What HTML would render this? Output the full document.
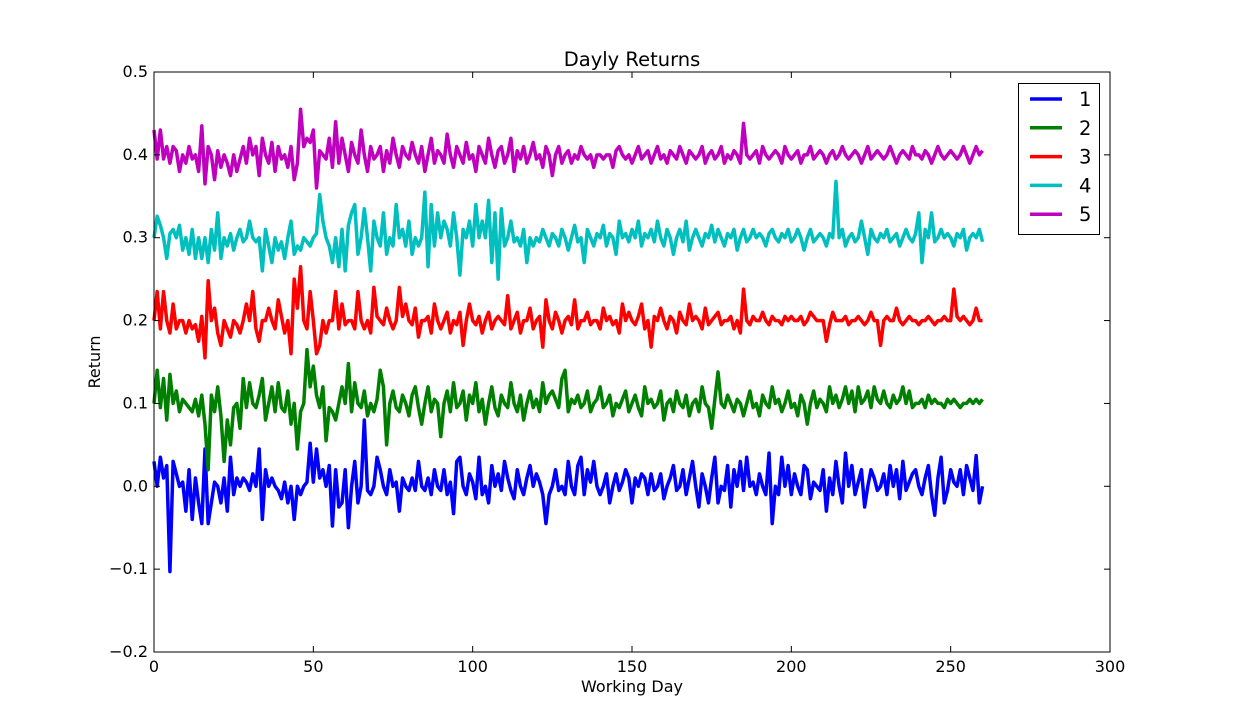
<!DOCTYPE html>
<html><head><meta charset="utf-8"><style>
body{margin:0;background:#fff;}
svg{display:block;font-family:"DejaVu Sans","Liberation Sans",sans-serif;}
</style></head><body>
<svg id="chart" width="1233" height="725" viewBox="0 0 1233 725">
<rect x="0" y="0" width="1233" height="725" fill="#fff"/>
<g id="series"></g>
<g id="axes"></g>
<text x="632" y="66" text-anchor="middle" font-size="19.5">Dayly Returns</text>
<text x="632" y="692" text-anchor="middle" font-size="16">Working Day</text>
<text x="0" y="0" transform="translate(100,362) rotate(-90)" text-anchor="middle" font-size="16">Return</text>
<g id="legend"></g>
</svg>
<script>
const xTicks=[0,50,100,150,200,250,300];
const yTicks=[-0.2,-0.1,0.0,0.1,0.2,0.3,0.4,0.5];
const yTickLabels=["\u22120.2","\u22120.1","0.0","0.1","0.2","0.3","0.4","0.5"];
const seriesNames=["1","2","3","4","5"];
const s1=[0.03,0.0,0.035,0.01,0.025,-0.103,0.03,0.015,0.0,0.005,
-0.03,0.02,-0.04,0.01,-0.02,-0.045,0.045,-0.045,-0.02,0.005,
0.0,-0.02,0.01,-0.03,0.035,-0.01,0.01,0.0,0.01,0.005,
-0.005,0.015,0.0,0.045,-0.04,0.02,0.0,0.01,0.0,-0.005,
-0.015,0.005,-0.02,0.0,-0.04,0.0,-0.01,0.0,0.005,0.052,
0.005,0.045,0.01,0.02,0.0,0.025,-0.048,0.02,-0.025,-0.02,
0.02,-0.05,0.0,0.03,-0.02,0.0,0.08,-0.005,-0.01,0.0,
0.035,0.02,0.0,-0.01,0.02,0.0,0.005,-0.03,0.01,0.0,
-0.005,0.01,-0.005,0.03,0.0,-0.005,0.01,-0.01,0.02,0.0,
-0.005,0.02,-0.01,0.005,-0.033,0.03,0.035,0.0,-0.01,0.015,
0.005,-0.015,0.035,-0.01,0.0,-0.02,0.025,0.0,0.015,-0.005,
0.03,0.01,-0.005,-0.015,0.02,0.0,-0.01,0.01,0.025,0.0,
0.015,0.005,-0.01,-0.045,-0.01,0.0,0.02,-0.005,0.0,-0.01,
0.03,0.0,-0.01,0.025,0.035,-0.01,0.02,0.005,0.03,0.0,
-0.01,0.0,0.015,-0.02,0.0,0.015,-0.005,0.005,0.02,0.01,
-0.02,0.01,0.0,0.015,0.01,-0.01,0.015,-0.005,0.0,0.015,
-0.015,0.0,0.01,0.025,-0.005,0.0,0.02,-0.01,0.01,0.03,
0.0,-0.025,0.015,0.0,-0.02,0.01,0.035,-0.02,0.0,-0.005,
0.025,-0.025,0.02,0.0,0.03,-0.005,0.035,0.0,0.005,-0.01,
0.015,0.0,-0.01,0.04,-0.045,0.0,-0.01,0.035,0.0,0.025,
-0.01,0.015,0.0,-0.01,0.025,0.02,-0.015,0.005,0.0,-0.005,
0.02,-0.03,0.01,-0.01,0.03,0.0,-0.02,0.04,0.0,0.025,
-0.01,0.005,0.02,-0.025,0.0,0.02,0.01,-0.005,0.0,0.015,
-0.01,0.025,0.0,0.02,-0.015,0.03,-0.005,0.005,0.015,0.02,
0.0,-0.01,0.01,0.025,-0.01,-0.035,0.01,0.035,-0.02,-0.005,
0.02,0.005,0.0,0.02,-0.01,0.025,0.01,-0.005,0.037,-0.02,0.0];
const s2=[0.1,0.14,0.095,0.13,0.08,0.135,0.1,0.115,0.09,0.105,
0.1,0.095,0.09,0.105,0.085,0.11,0.075,0.02,0.11,0.09,
0.12,0.085,0.03,0.08,0.05,0.095,0.1,0.07,0.13,0.095,
0.125,0.1,0.095,0.11,0.13,0.08,0.1,0.12,0.09,0.125,
0.095,0.09,0.115,0.075,0.1,0.045,0.09,0.1,0.165,0.12,
0.145,0.11,0.095,0.12,0.055,0.095,0.09,0.08,0.1,0.12,
0.1,0.148,0.09,0.125,0.1,0.095,0.115,0.085,0.1,0.09,
0.105,0.14,0.12,0.05,0.1,0.115,0.095,0.09,0.11,0.1,
0.085,0.11,0.12,0.095,0.075,0.1,0.12,0.09,0.105,0.1,
0.06,0.1,0.115,0.09,0.125,0.095,0.1,0.115,0.08,0.11,
0.1,0.125,0.09,0.105,0.075,0.1,0.12,0.095,0.085,0.11,
0.1,0.095,0.125,0.1,0.09,0.11,0.08,0.1,0.115,0.095,
0.105,0.09,0.125,0.1,0.11,0.115,0.105,0.095,0.13,0.14,
0.09,0.105,0.1,0.11,0.095,0.1,0.115,0.09,0.1,0.105,
0.12,0.095,0.1,0.11,0.085,0.1,0.095,0.105,0.115,0.09,
0.1,0.11,0.095,0.085,0.12,0.1,0.105,0.095,0.1,0.115,
0.08,0.1,0.105,0.09,0.115,0.1,0.095,0.11,0.085,0.1,
0.105,0.09,0.12,0.1,0.095,0.07,0.105,0.138,0.1,0.095,
0.11,0.1,0.09,0.105,0.1,0.085,0.1,0.115,0.095,0.1,
0.085,0.11,0.1,0.095,0.12,0.1,0.105,0.09,0.1,0.115,
0.095,0.1,0.085,0.11,0.1,0.075,0.1,0.115,0.095,0.105,
0.1,0.09,0.12,0.1,0.11,0.095,0.105,0.12,0.1,0.115,
0.09,0.12,0.1,0.105,0.115,0.095,0.12,0.105,0.1,0.115,
0.1,0.095,0.11,0.1,0.105,0.12,0.1,0.115,0.095,0.1,
0.1,0.105,0.095,0.11,0.1,0.105,0.1,0.1,0.095,0.105,
0.1,0.105,0.1,0.095,0.1,0.1,0.105,0.1,0.105,0.1,0.105];
const s3=[0.2,0.235,0.19,0.235,0.2,0.185,0.22,0.19,0.2,0.2,
0.185,0.2,0.19,0.195,0.175,0.205,0.155,0.248,0.2,0.215,
0.185,0.17,0.2,0.19,0.18,0.2,0.195,0.185,0.2,0.22,
0.2,0.235,0.19,0.175,0.2,0.2,0.215,0.2,0.19,0.225,
0.205,0.185,0.2,0.16,0.25,0.215,0.265,0.2,0.19,0.235,
0.2,0.16,0.17,0.2,0.185,0.2,0.2,0.235,0.19,0.22,
0.195,0.2,0.2,0.19,0.235,0.2,0.19,0.2,0.185,0.24,
0.205,0.2,0.195,0.215,0.2,0.19,0.2,0.24,0.205,0.22,
0.2,0.195,0.215,0.18,0.2,0.2,0.205,0.185,0.22,0.2,
0.19,0.2,0.21,0.185,0.2,0.195,0.21,0.17,0.2,0.22,
0.2,0.195,0.205,0.185,0.2,0.21,0.19,0.2,0.205,0.2,
0.195,0.23,0.19,0.2,0.21,0.185,0.2,0.2,0.215,0.19,
0.2,0.205,0.168,0.225,0.2,0.19,0.21,0.2,0.185,0.2,
0.205,0.195,0.225,0.19,0.2,0.2,0.21,0.195,0.2,0.2,
0.19,0.215,0.2,0.205,0.195,0.2,0.185,0.22,0.2,0.21,
0.2,0.195,0.205,0.22,0.19,0.2,0.168,0.205,0.2,0.215,
0.2,0.19,0.205,0.2,0.185,0.21,0.2,0.195,0.22,0.2,
0.205,0.2,0.19,0.215,0.195,0.2,0.205,0.21,0.195,0.2,
0.2,0.205,0.19,0.2,0.185,0.238,0.2,0.195,0.205,0.2,
0.2,0.21,0.2,0.195,0.205,0.2,0.2,0.195,0.205,0.2,
0.205,0.2,0.2,0.205,0.195,0.2,0.21,0.205,0.2,0.2,
0.2,0.175,0.195,0.21,0.2,0.2,0.2,0.205,0.195,0.2,
0.2,0.205,0.2,0.195,0.2,0.21,0.2,0.2,0.17,0.2,
0.205,0.2,0.2,0.215,0.2,0.195,0.2,0.205,0.2,0.2,
0.195,0.2,0.2,0.205,0.2,0.195,0.2,0.2,0.205,0.2,
0.2,0.238,0.205,0.2,0.205,0.2,0.195,0.2,0.215,0.2,0.2];
const s4=[0.3,0.326,0.315,0.3,0.275,0.305,0.31,0.3,0.315,0.285,
0.3,0.28,0.31,0.275,0.3,0.275,0.3,0.27,0.31,0.285,
0.33,0.275,0.3,0.29,0.305,0.285,0.3,0.31,0.295,0.3,
0.32,0.3,0.295,0.3,0.26,0.31,0.29,0.27,0.3,0.285,
0.295,0.275,0.3,0.32,0.28,0.29,0.285,0.3,0.295,0.29,
0.3,0.305,0.352,0.32,0.3,0.29,0.27,0.3,0.265,0.31,
0.26,0.315,0.33,0.34,0.28,0.3,0.335,0.3,0.26,0.32,
0.3,0.29,0.33,0.28,0.3,0.29,0.34,0.3,0.31,0.29,
0.32,0.28,0.3,0.29,0.3,0.355,0.265,0.34,0.29,0.33,
0.3,0.32,0.31,0.29,0.33,0.3,0.255,0.31,0.3,0.32,
0.29,0.34,0.3,0.32,0.3,0.345,0.27,0.33,0.25,0.335,
0.29,0.3,0.32,0.295,0.3,0.29,0.31,0.27,0.3,0.29,
0.3,0.295,0.31,0.3,0.29,0.305,0.3,0.29,0.31,0.3,
0.285,0.3,0.315,0.295,0.3,0.27,0.31,0.3,0.29,0.305,
0.3,0.315,0.29,0.305,0.3,0.28,0.32,0.3,0.305,0.295,
0.31,0.3,0.32,0.29,0.305,0.3,0.31,0.295,0.32,0.3,
0.29,0.31,0.3,0.28,0.3,0.31,0.295,0.32,0.285,0.3,
0.31,0.3,0.29,0.305,0.3,0.315,0.295,0.31,0.3,0.29,
0.305,0.3,0.31,0.285,0.3,0.31,0.295,0.3,0.31,0.3,
0.305,0.3,0.29,0.305,0.31,0.3,0.295,0.305,0.3,0.31,
0.295,0.3,0.31,0.3,0.285,0.3,0.31,0.295,0.3,0.305,
0.3,0.29,0.305,0.3,0.368,0.3,0.31,0.29,0.3,0.305,
0.295,0.3,0.32,0.3,0.28,0.31,0.3,0.295,0.305,0.3,
0.31,0.295,0.3,0.305,0.29,0.3,0.31,0.3,0.295,0.305,
0.33,0.27,0.31,0.3,0.33,0.295,0.3,0.31,0.3,0.305,
0.3,0.29,0.305,0.3,0.31,0.285,0.3,0.305,0.3,0.31,0.295];
const s5=[0.43,0.395,0.43,0.395,0.41,0.39,0.41,0.405,0.38,0.4,
0.39,0.41,0.395,0.4,0.38,0.435,0.365,0.41,0.4,0.37,
0.405,0.385,0.4,0.39,0.375,0.4,0.38,0.395,0.41,0.39,
0.42,0.4,0.41,0.375,0.42,0.4,0.39,0.415,0.38,0.41,
0.395,0.4,0.385,0.41,0.37,0.39,0.455,0.41,0.42,0.415,
0.43,0.36,0.405,0.4,0.395,0.42,0.385,0.44,0.39,0.42,
0.4,0.38,0.415,0.4,0.39,0.43,0.4,0.38,0.41,0.395,
0.4,0.41,0.38,0.405,0.39,0.42,0.4,0.385,0.41,0.4,
0.395,0.415,0.4,0.39,0.41,0.38,0.4,0.42,0.39,0.405,
0.4,0.39,0.425,0.4,0.385,0.41,0.4,0.39,0.415,0.395,
0.4,0.38,0.41,0.4,0.39,0.42,0.4,0.385,0.405,0.41,
0.39,0.4,0.42,0.38,0.405,0.395,0.41,0.39,0.4,0.415,
0.395,0.4,0.385,0.41,0.4,0.375,0.4,0.41,0.39,0.4,
0.405,0.39,0.4,0.395,0.41,0.4,0.395,0.4,0.385,0.4,
0.4,0.395,0.4,0.4,0.385,0.405,0.41,0.4,0.395,0.4,
0.39,0.4,0.41,0.395,0.4,0.405,0.39,0.4,0.41,0.395,
0.4,0.39,0.405,0.4,0.395,0.41,0.4,0.39,0.405,0.4,
0.395,0.4,0.41,0.39,0.4,0.405,0.395,0.4,0.41,0.39,
0.4,0.395,0.405,0.4,0.39,0.438,0.4,0.395,0.4,0.405,
0.39,0.41,0.4,0.395,0.4,0.405,0.4,0.39,0.41,0.4,
0.395,0.4,0.405,0.39,0.4,0.4,0.41,0.395,0.4,0.405,
0.4,0.39,0.4,0.405,0.395,0.4,0.41,0.4,0.395,0.4,
0.405,0.4,0.39,0.4,0.41,0.395,0.4,0.405,0.4,0.395,
0.4,0.41,0.4,0.39,0.4,0.405,0.4,0.395,0.41,0.4,
0.4,0.395,0.405,0.4,0.39,0.4,0.41,0.4,0.395,0.4,
0.405,0.4,0.395,0.4,0.41,0.4,0.39,0.4,0.41,0.4,0.405];
const seriesData=[s1,s2,s3,s4,s5];
const colors=["#0000ff","#008000","#ff0000","#00bfbf","#bf00bf"];

const NS="http://www.w3.org/2000/svg";
const L=154,R=1110,T=72,B=652;
const xS=v=>L+(v-0)/(300-0)*(R-L);
const yS=v=>B-(v-(-0.2))/(0.5-(-0.2))*(B-T);
function mk(tag,attrs,parent){const e=document.createElementNS(NS,tag);for(const k in attrs)e.setAttribute(k,attrs[k]);parent.appendChild(e);return e;}

const sg=document.getElementById('series');
seriesData.forEach((d,i)=>{
  const pts=d.map((v,j)=>xS(j).toFixed(2)+','+yS(v).toFixed(2)).join(' ');
  const pl=mk('polyline',{points:pts,fill:'none',stroke:colors[i],'stroke-width':3.5,'stroke-linejoin':'round'},sg);
  
  
});

const ag=document.getElementById('axes');
const frame=mk('rect',{x:L,y:T,width:R-L,height:B-T,fill:'none',stroke:'#000','stroke-width':1},ag);


xTicks.forEach(v=>{
  const x=xS(v);
  mk('line',{x1:x,y1:B,x2:x,y2:B-6,stroke:'#000'},ag);
  mk('line',{x1:x,y1:T,x2:x,y2:T+6,stroke:'#000'},ag);
  const t=mk('text',{x:x,y:B+20,'text-anchor':'middle','font-size':16},ag);
  t.textContent=v;
  
  
});
yTicks.forEach((v,i)=>{
  const y=yS(v);
  mk('line',{x1:L,y1:y,x2:L+6,y2:y,stroke:'#000'},ag);
  mk('line',{x1:R,y1:y,x2:R-6,y2:y,stroke:'#000'},ag);
  const t=mk('text',{x:L-6,y:y+5,'text-anchor':'end','font-size':16},ag);
  t.textContent=yTickLabels[i];
  
  
});

const lg=document.getElementById('legend');
const box=mk('rect',{x:1018.5,y:83.5,width:81,height:151,fill:'#fff',stroke:'#000','stroke-width':1},lg);


seriesNames.forEach((n,i)=>{
  const y=99+i*28.8;
  const ln=mk('line',{x1:1030,y1:y,x2:1062,y2:y,stroke:colors[i],'stroke-width':3.5},lg);
  
  
  const t=mk('text',{x:1079,y:y+7,'font-size':19.5},lg);
  t.textContent=n;
  
  
});
</script>
</body></html>
